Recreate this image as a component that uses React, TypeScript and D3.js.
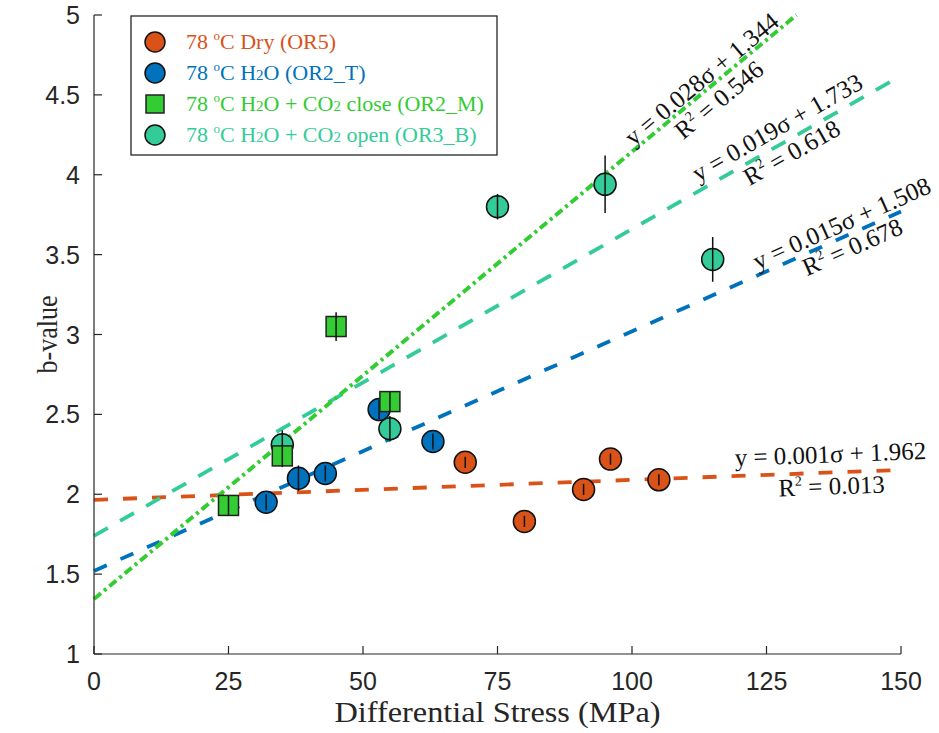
import React from "react";
import * as d3 from "d3";

// ---- data ----
const seriesNames = ["dry", "h2o", "close", "open"];
const legendLabels = [
  ["78 ", "o", "C Dry (OR5)"],
  ["78 ", "o", "C H", "2", "O (OR2_T)"],
  ["78 ", "o", "C H", "2", "O + CO", "2", " close (OR2_M)"],
  ["78 ", "o", "C H", "2", "O + CO", "2", " open (OR3_B)"],
];
const colors = ["#D95319", "#0072BD", "#33CC33", "#33CC99"];
const markers = ["circle", "circle", "square", "circle"];

const dryX = [69, 80, 91, 96, 105];
const dryY = [2.2, 1.83, 2.03, 2.22, 2.09];
const dryErr = [0.035, 0.035, 0.035, 0.035, 0.035];

const h2oX = [32, 38, 43, 53, 63];
const h2oY = [1.95, 2.1, 2.13, 2.53, 2.33];
const h2oErr = [0.05, 0.08, 0.05, 0.06, 0.05];

const closeX = [25, 35, 45, 55];
const closeY = [1.93, 2.24, 3.05, 2.58];
const closeErr = [0.06, 0.07, 0.09, 0.06];

const openX = [35, 55, 75, 95, 115];
const openY = [2.31, 2.41, 3.8, 3.94, 3.47];
const openErr = [0.09, 0.08, 0.08, 0.18, 0.14];

// linear fits: slope, intercept (as drawn) and label text
const fitSlope = [0.00125, 0.015, 0.028, 0.0192];
const fitIntercept = [1.965, 1.52, 1.344, 1.74];
const fitEqText = ["y = 0.001σ + 1.962", "y = 0.015σ + 1.508", "y = 0.028σ + 1.344", "y = 0.019σ + 1.733"];
const fitR2Text = [" = 0.013", " = 0.678", " = 0.546", " = 0.618"];
const fitLabelX = [137, 140, 114.3, 128.5];
const fitEqOff = [-18, -13, -11, -16];
const fitR2Off = [14, 13, 16, 13];
const fitDash = ["14 15", "14 15", "9 4 3 4", "16 14"];

const xTicks = [0, 25, 50, 75, 100, 125, 150];
const yTicks = [1, 1.5, 2, 2.5, 3, 3.5, 4, 4.5, 5];

const W = 939, H = 733;
const M = { left: 94, right: 901, top: 15, bottom: 654 };

export default function App() {
  const x = d3.scaleLinear().domain([0, 150]).range([M.left, M.right]);
  const y = d3.scaleLinear().domain([1, 5]).range([M.bottom, M.top]);

  const series = [
    { xs: dryX, ys: dryY, es: dryErr },
    { xs: h2oX, ys: h2oY, es: h2oErr },
    { xs: closeX, ys: closeY, es: closeErr },
    { xs: openX, ys: openY, es: openErr },
  ];
  const drawOrder = [3, 0, 1, 2];
  const line = d3.line<[number, number]>().x((d) => x(d[0])).y((d) => y(d[1]));
  const fitOrder = [0, 1, 3, 2];

  const serif = "'Liberation Serif', 'DejaVu Serif', serif";
  const sans = "'Liberation Sans', Arial, sans-serif";

  const marker = (i: number, cx: number, cy: number, key: string, size = 11) =>
    markers[i] === "square" ? (
      <rect key={key} x={cx - size + 1} y={cy - size + 1} width={2 * size - 2} height={2 * size - 2}
        fill={colors[i]} stroke="#222" strokeWidth={1.5} />
    ) : (
      <circle key={key} cx={cx} cy={cy} r={size} fill={colors[i]} stroke="#111" strokeWidth={1.5} />
    );

  return (
    <svg width={W} height={H} style={{ position: "absolute", left: 0, top: 0, background: "#fff" }}>
      <rect x={0} y={0} width={W} height={H} fill="#fff" />
      {/* fit lines */}
      {fitOrder.map((i) => {
        const m = fitSlope[i], b = fitIntercept[i];
        const xEnd = Math.min(150, (5 - b) / m);
        return (
          <path key={"fit" + i} d={line([[0, b], [xEnd, b + m * xEnd]]) || ""} fill="none"
            stroke={colors[i]} strokeWidth={i === 2 ? 4 : 3.8} strokeDasharray={fitDash[i]} />
        );
      })}
      {/* data markers with error bars */}
      {drawOrder.map((i) =>
        series[i].xs.map((xv, k) => {
          const yv = series[i].ys[k], e = series[i].es[k];
          return (
            <g key={"pt" + i + "-" + k}>
              {marker(i, x(xv), y(yv), "m")}
              <line x1={x(xv)} x2={x(xv)} y1={y(yv - e)} y2={y(yv + e)} stroke="#111" strokeWidth={1.5} />
            </g>
          );
        })
      )}
      {/* fit annotations */}
      {fitOrder.map((i) => {
        const m = fitSlope[i], b = fitIntercept[i];
        const lx = fitLabelX[i];
        const px = x(lx), py = y(b + m * lx);
        const ang = (Math.atan2(y(b + m * (lx + 10)) - py, x(lx + 10) - px) * 180) / Math.PI;
        return (
          <g key={"lab" + i} transform={`translate(${px},${py}) rotate(${ang})`} fontFamily={serif} fontSize={25} fill="#111">
            <text x={0} y={fitEqOff[i] + 8} textAnchor="middle">{fitEqText[i]}</text>
            <text x={0} y={fitR2Off[i] + 8} textAnchor="middle">
              R<tspan fontSize={14} dy={-10}>2</tspan><tspan dy={10}>{fitR2Text[i]}</tspan>
            </text>
          </g>
        );
      })}
      {/* axes */}
      <g stroke="#262626" strokeWidth={1.2} fill="none">
        <line x1={M.left} x2={M.left} y1={M.top} y2={M.bottom} />
        <line x1={M.left} x2={M.right} y1={M.bottom} y2={M.bottom} />
        {xTicks.map((t) => (
          <line key={"xt" + t} x1={x(t)} x2={x(t)} y1={M.bottom} y2={M.bottom - 8} />
        ))}
        {yTicks.map((t) => (
          <line key={"yt" + t} x1={M.left} x2={M.left + 8} y1={y(t)} y2={y(t)} />
        ))}
      </g>
      <g fontFamily={sans} fontSize={25} fill="#262626">
        {xTicks.map((t) => (
          <text key={"xl" + t} x={x(t)} y={M.bottom + 36} textAnchor="middle">{t}</text>
        ))}
        {yTicks.map((t) => (
          <text key={"yl" + t} x={M.left - 14} y={y(t) + 9} textAnchor="end">{t}</text>
        ))}
      </g>
      <text x={(M.left + M.right) / 2} y={722} textAnchor="middle" fontFamily={serif} fontSize={30}
        fill="#262626" textLength={326} lengthAdjust="spacingAndGlyphs">Differential Stress (MPa)</text>
      <text transform={`translate(57,${(M.top + M.bottom) / 2}) rotate(-90)`} textAnchor="middle"
        fontFamily={serif} fontSize={30} fill="#262626" textLength={78} lengthAdjust="spacingAndGlyphs">b-value</text>
      {/* legend */}
      <rect x={131} y={16} width={366} height={139} fill="#fff" stroke="#262626" strokeWidth={1.3} />
      {seriesNames.map((s, i) => {
        const cy = 42 + i * 31;
        const parts = legendLabels[i];
        return (
          <g key={"leg" + s}>
            {marker(i, 155, cy, "lm", 10)}
            <text x={186} y={cy + 7} fontFamily={serif} fontSize={22} fill={colors[i]}>
              {parts.map((p, k) => {
                if (k === 1) return <tspan key={k} fontSize={13} dy={-9}>{p}</tspan>;
                if (k === 2) return <tspan key={k} dy={9}>{p}</tspan>;
                if (p === "2") return <tspan key={k} fontSize={15}>{p}</tspan>;
                return <tspan key={k}>{p}</tspan>;
              })}
            </text>
          </g>
        );
      })}
    </svg>
  );
}
